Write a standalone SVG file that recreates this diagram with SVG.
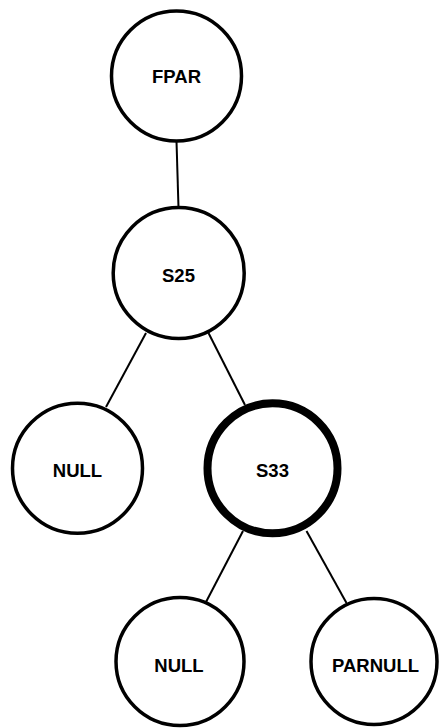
<svg xmlns="http://www.w3.org/2000/svg" width="439" height="728" viewBox="0 0 439 728">
<style>
.n{fill:#fff;stroke:#000;stroke-width:3.5}
.thick{stroke-width:8}
.t{font-family:"Liberation Sans",Arial,sans-serif;font-weight:bold;font-size:18.5px;fill:#000;text-anchor:middle}
.c{stroke:#000;stroke-width:2;fill:none}
</style>
<rect width="439" height="728" fill="#fff"/>
<g id="connectors">
<line class="c" x1="176.5" y1="141" x2="178.5" y2="208"/>
<line class="c" x1="146" y1="333" x2="106" y2="407"/>
<line class="c" x1="208.5" y1="333" x2="245" y2="405"/>
<line class="c" x1="243" y1="531" x2="206" y2="602"/>
<line class="c" x1="306.5" y1="531" x2="346.5" y2="603"/>
</g>
<g id="FPAR"><circle class="n" cx="176.5" cy="76" r="65"/><text class="t" x="176.5" y="83">FPAR</text></g>
<g id="S25"><circle class="n" cx="178.7" cy="273" r="65.5"/><text class="t" x="178.5" y="282">S25</text></g>
<g id="NULL1"><circle class="n" cx="77.5" cy="468.3" r="65"/><text class="t" x="77.5" y="477">NULL</text></g>
<g id="S33"><circle class="n thick" cx="272.5" cy="468.3" r="65"/><text class="t" x="272.5" y="477">S33</text></g>
<g id="NULL2"><circle class="n" cx="180" cy="661.5" r="64"/><text class="t" x="179" y="671.5">NULL</text></g>
<g id="PARNULL"><circle class="n" cx="374" cy="661.5" r="63"/><text class="t" x="375.5" y="671.5">PARNULL</text></g>
</svg>
